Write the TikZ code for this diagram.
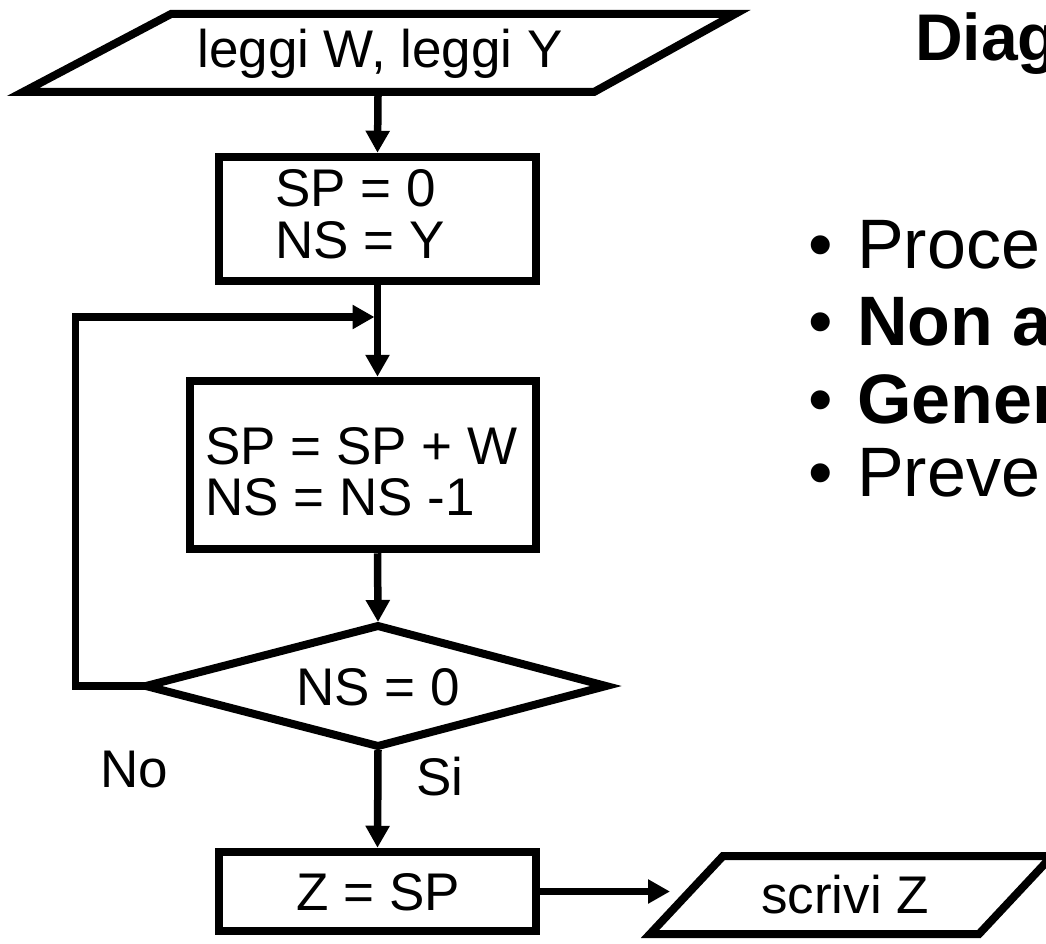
\documentclass[tikz,border=0pt]{standalone}
\usepackage{fontspec}
\setmainfont{Liberation Sans}
\usetikzlibrary{arrows.meta}
\begin{document}
\begin{tikzpicture}[x=1pt,y=-1pt,
  flowtext/.style={font=\fontsize{53}{53}\selectfont, inner sep=0pt},
  bullettext/.style={font=\fontsize{70}{70}\selectfont, inner sep=0pt, anchor=base west},
  boldbullet/.style={font=\fontsize{70}{70}\selectfont\bfseries, inner sep=0pt, anchor=base west},
  dotmark/.style={font=\fontsize{70}{70}\selectfont, inner sep=0pt, anchor=base},
  box/.style={draw=black, line width=8pt, inner sep=0pt},
  outline/.style={draw=black, line width=8pt, line join=miter},
  conn/.style={draw=black, line width=7.5pt, -{Triangle[length=22pt,width=23pt]}}]
\useasboundingbox (0,0) rectangle (1046,944);
\clip (0,0) rectangle (1046,944);
\fill[white] (0,0) rectangle (1046,944);

% input parallelogram
\draw[outline] (171,14) -- (735,14) -- (594,92) -- (23,92) -- cycle;
\node[flowtext, anchor=base] (inp) at (380,68) {leggi W, leggi Y};
\coordinate (inpB) at (378,96);

% box 1
\node[box, minimum width=317.5pt, minimum height=124.5pt] (b1) at (377.5,219) {};
\node[flowtext, anchor=base west] (b1t1) at (275,207) {SP = 0};
\node[flowtext, anchor=base west] (b1t2) at (275,258) {NS = Y};

% box 2
\node[box, minimum width=346.5pt, minimum height=168.5pt] (b2) at (363,465) {};
\node[flowtext, anchor=base west] (b2t1) at (205,464) {SP = SP + W};
\node[flowtext, anchor=base west] (b2t2) at (205,515) {NS = NS -1};

% decision
\draw[outline] (378,626) -- (606,686) -- (378,746) -- (146,686) -- cycle;
\node[flowtext, anchor=base] (dec) at (378,705) {NS = 0};
\coordinate (decT) at (378,622);
\coordinate (decB) at (378,750);
\coordinate (decL) at (146,686);
\coordinate (loopBL) at (75.5,686);
\coordinate (loopTL) at (75.5,317);
\coordinate (joinL) at (374.5,317);

% box 3
\node[box, minimum width=317.5pt, minimum height=79.5pt] (b3) at (377.5,891.5) {};
\node[flowtext, anchor=base] (b3t) at (378,910) {Z = SP};

% output parallelogram
\draw[outline] (723,856) -- (1052,856) -- (979,934) -- (650,934) -- cycle;
\node[flowtext, anchor=base] (outp) at (845,913) {scrivi Z};
\coordinate (outL) at (670,891.5);

% labels
\node[flowtext, anchor=base west] (no) at (100,787) {No};
\node[flowtext, anchor=base west] (si) at (416,795) {Si};

% connectors
\draw[conn] (inpB) -- (b1.north);
\draw[conn] (b1.south) -- (b2.north -| b1.south);
\draw[conn] (b2.south -| b1.south) -- (decT);
\draw[conn] (decL) -- (loopBL) -- (loopTL) -- (joinL);
\draw[conn] (decB) -- (b3.north);
\draw[conn] (b3.east) -- (outL);

% text on the right
\node[font=\fontsize{66}{66}\selectfont\bfseries, inner sep=0pt, anchor=base west] (title) at (915,61) {Diag};
\node[dotmark] (d1) at (821,268) {•};
\node[bullettext] (l1) at (857,268) {Proce};
\node[dotmark] (d2) at (821,345) {•};
\node[boldbullet] (l2) at (857,345) {Non a};
\node[dotmark] (d3) at (821,423) {•};
\node[boldbullet] (l3) at (857,423) {Gener};
\node[dotmark] (d4) at (821,496) {•};
\node[bullettext] (l4) at (857,496) {Preve};
\end{tikzpicture}
\end{document}
